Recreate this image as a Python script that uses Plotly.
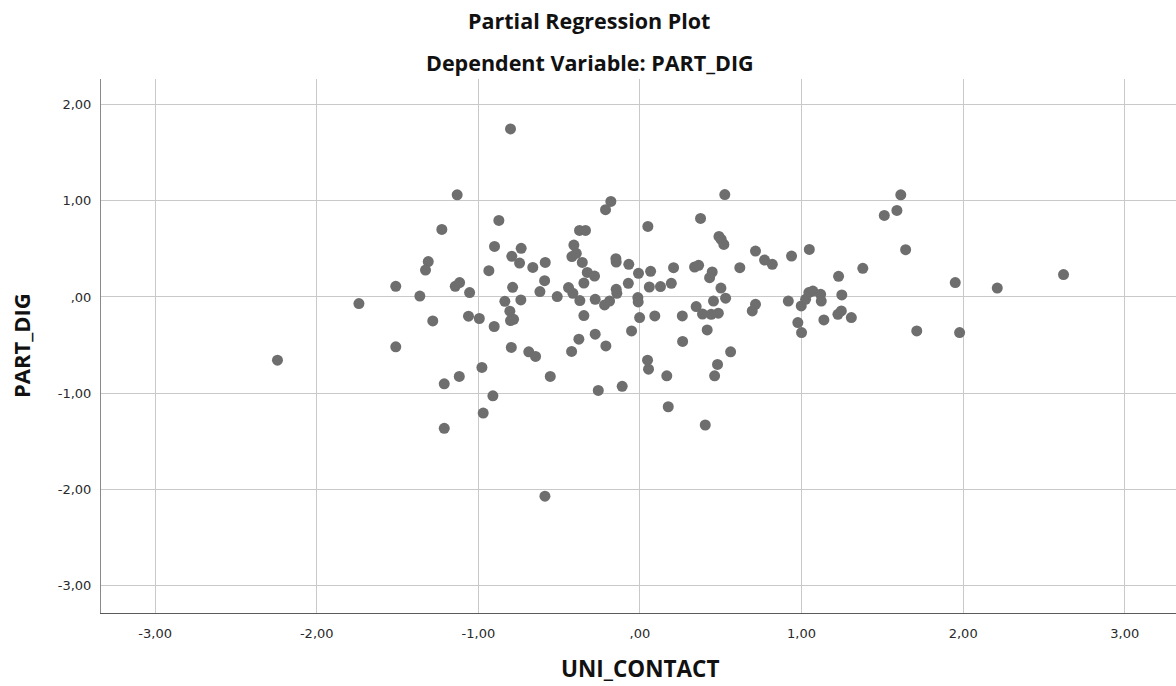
import plotly.graph_objects as go

# UNI_CONTACT (partial residuals)
uni_contact = [
    -1.131, -1.226, -1.310, -1.327, -1.511, -1.362, -1.143, -1.116, -1.739, -1.282,
    -1.511, -2.243, -1.118, -1.211, -1.211,
    -0.801, -0.873, -0.900, -0.735, -0.409, -0.374, -0.337, -0.793, -0.745, -0.663,
    -0.586, -0.421, -0.394, -0.357, -0.326, -0.281, -0.935, -1.054, -0.788, -0.590,
    -0.619, -0.512, -0.442, -0.415, -0.372, -0.347, -0.836, -0.737, -0.805, -0.801,
    -0.782, -1.061, -0.994, -0.902, -0.347, -0.378, -0.796, -0.688, -0.646, -0.423,
    -0.978, -0.555, -0.910, -0.970, -0.588,
    -0.180, -0.213, 0.525, 0.049, 0.375, 0.503, 0.519, 0.489, -0.149, -0.147,
    -0.069, -0.009, 0.066, 0.208, 0.338, 0.363, 0.447, 0.431, -0.072, -0.147,
    -0.143, 0.058, 0.127, 0.194, 0.501, -0.277, -0.219, -0.188, -0.013, -0.011,
    0.530, 0.455, 0.348, 0.387, 0.441, 0.485, -0.002, 0.092, 0.262, -0.277,
    -0.211, -0.052, 0.264, 0.416, 0.561, 0.047, 0.053, 0.166, 0.480, 0.462,
    -0.258, -0.110, 0.175, 0.404,
    0.715, 0.771, 0.819, 0.938, 1.048, 0.618, 1.229, 1.379, 0.715, 0.695,
    0.918, 0.998, 1.025, 1.045, 1.070, 1.118, 1.122, 1.249, 0.977, 1.000,
    1.138, 1.225, 1.246, 1.308,
    1.614, 1.590, 1.512, 1.644, 1.951, 2.211, 2.621, 1.713, 1.978,
]

# PART_DIG (partial residuals)
part_dig = [
    1.063, 0.703, 0.368, 0.280, 0.111, 0.010, 0.111, 0.150, -0.069, -0.249,
    -0.519, -0.657, -0.827, -0.903, -1.367,
    1.749, 0.796, 0.526, 0.506, 0.540, 0.693, 0.693, 0.423, 0.353, 0.308,
    0.360, 0.420, 0.454, 0.360, 0.256, 0.218, 0.274, 0.046, 0.101, 0.170,
    0.056, 0.004, 0.098, 0.038, -0.037, 0.145, -0.045, -0.031, -0.148, -0.245,
    -0.232, -0.200, -0.224, -0.307, -0.193, -0.439, -0.525, -0.571, -0.619, -0.567,
    -0.733, -0.827, -1.028, -1.208, -2.073,
    0.994, 0.908, 1.066, 0.734, 0.817, 0.599, 0.547, 0.630, 0.399, 0.363,
    0.340, 0.246, 0.267, 0.305, 0.312, 0.329, 0.260, 0.201, 0.142, 0.080,
    0.038, 0.104, 0.108, 0.142, 0.093, -0.024, -0.083, -0.042, -0.006, -0.052,
    -0.013, -0.042, -0.100, -0.177, -0.180, -0.169, -0.214, -0.197, -0.197, -0.387,
    -0.509, -0.353, -0.463, -0.343, -0.571, -0.657, -0.751, -0.820, -0.702, -0.820,
    -0.972, -0.930, -1.142, -1.332,
    0.478, 0.384, 0.340, 0.426, 0.495, 0.305, 0.215, 0.298, -0.076, -0.145,
    -0.042, -0.093, -0.024, 0.046, 0.062, 0.028, -0.042, 0.021, -0.266, -0.370,
    -0.239, -0.180, -0.145, -0.214,
    1.063, 0.900, 0.848, 0.492, 0.150, 0.093, 0.233, -0.353, -0.370,
]

x_tick_vals = [-3, -2, -1, 0, 1, 2, 3]
x_tick_text = ["-3,00", "-2,00", "-1,00", ",00", "1,00", "2,00", "3,00"]
y_tick_vals = [-3, -2, -1, 0, 1, 2]
y_tick_text = ["-3,00", "-2,00", "-1,00", ",00", "1,00", "2,00"]

title_text = "Partial Regression Plot"
subtitle_text = "Dependent Variable: PART_DIG"
x_title = "UNI_CONTACT"
y_title = "PART_DIG"

W, H = 1176, 686
ML, MR, MT, MB = 101, 0, 79, 73
PW, PH = W - ML - MR, H - MT - MB

def px_x(p):
    return (p - ML) / PW

def px_y(p):
    return (H - MB - p) / PH

fig = go.Figure()
fig.add_trace(go.Scatter(
    x=uni_contact, y=part_dig, mode="markers",
    marker=dict(color="#6e6e6e", size=11, line=dict(width=0)),
    hoverinfo="x+y", showlegend=False,
))

tick_font = dict(family="DejaVu Sans", size=13, color="#2a2a2a")
title_font = dict(family="Open Sans", size=21.5, color="#111111", weight="bold")

fig.update_layout(
    width=W, height=H,
    margin=dict(l=ML, r=MR, t=MT, b=MB, autoexpand=False),
    paper_bgcolor="white", plot_bgcolor="white",
    xaxis=dict(
        range=[-3.335, 3.317], tickvals=x_tick_vals, ticktext=x_tick_text,
        showgrid=True, gridcolor="#c9c9c9", gridwidth=1, zeroline=False,
        showline=True, linecolor="#5a5a5a", linewidth=1.3, ticks="",
        tickfont=tick_font, ticklabelstandoff=8, fixedrange=True,
    ),
    yaxis=dict(
        range=[-3.288, 2.268], tickvals=y_tick_vals, ticktext=y_tick_text,
        showgrid=True, gridcolor="#c9c9c9", gridwidth=1, zeroline=False,
        showline=True, linecolor="#8a8a8a", linewidth=1, ticks="",
        tickfont=tick_font, ticklabelstandoff=6, fixedrange=True,
    ),
    annotations=[
        dict(text=title_text, xref="paper", yref="paper", x=px_x(589), y=px_y(20),
             xanchor="center", yanchor="middle", showarrow=False, font=title_font),
        dict(text=subtitle_text, xref="paper", yref="paper", x=px_x(590), y=px_y(62),
             xanchor="center", yanchor="middle", showarrow=False, font=title_font),
        dict(text=x_title, xref="paper", yref="paper", x=px_x(640), y=px_y(668),
             xanchor="center", yanchor="middle", showarrow=False,
             font=dict(family="Open Sans", size=22.5, color="#111111", weight="bold")),
        dict(text=y_title, xref="paper", yref="paper", x=px_x(21), y=px_y(346),
             xanchor="center", yanchor="middle", showarrow=False, textangle=-90,
             font=dict(family="Open Sans", size=22, color="#111111", weight="bold")),
    ],
)

fig.write_html("out.html")
